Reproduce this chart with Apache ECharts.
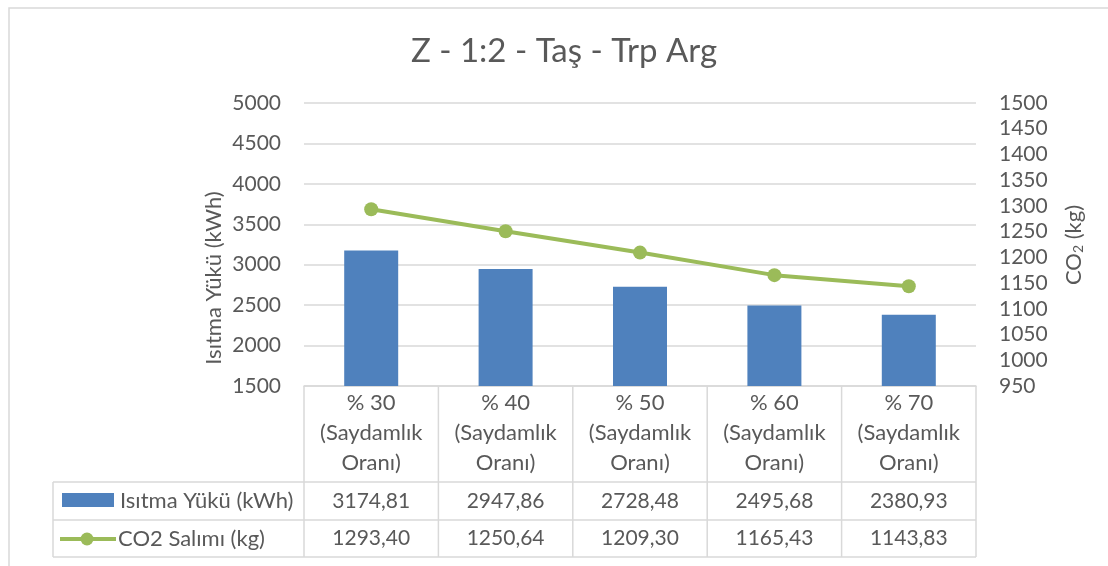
<!DOCTYPE html>
<html>
<head>
<meta charset="utf-8">
<script src="https://cdn.jsdelivr.net/npm/echarts@6/dist/echarts.min.js"></script>
<style>
  html, body { margin: 0; padding: 0; background: #fff; }
  #chart { width: 1108px; height: 566px; }
</style>
</head>
<body>
<div id="chart"></div>
<script>
// Heating load and CO2 emission by glazing ratio
const categories = ['% 30', '% 40', '% 50', '% 60', '% 70'];
const categorySuffix = ['(Saydamlık', 'Oranı)'];
const heatingLoad = [3174.81, 2947.86, 2728.48, 2495.68, 2380.93];
const co2Emission = [1293.40, 1250.64, 1209.30, 1165.43, 1143.83];
const seriesNames = ['Isıtma Yükü (kWh)', 'CO2 Salımı (kg)'];
const titleText = 'Z - 1:2 - Taş - Trp Arg';

const FONT = 'Lato, "Noto Sans", sans-serif';
const TEXT = '#595959';
const GRID_LINE = '#d9d9d9';
const BLUE = '#4F81BD';
const GREEN = '#9BBB59';

const W = 1108, H = 566;
const plot = { left: 304, right: 976, top: 103, bottom: 386 };
const table = { legendLeft: 53, headerBottom: 482, row1Bottom: 520, row2Bottom: 557 };

const fmt = v => v.toFixed(2).replace('.', ',');

const chart = echarts.init(document.getElementById('chart'), null, { renderer: 'canvas' });

function buildTable() {
  const g = [];
  const colW = (plot.right - plot.left) / categories.length;
  const line = (x1, y1, x2, y2) => ({
    type: 'line', silent: true,
    shape: { x1, y1, x2, y2 },
    style: { stroke: GRID_LINE, lineWidth: 1.5 }
  });
  // horizontal rules
  [table.headerBottom, table.row1Bottom, table.row2Bottom].forEach(y =>
    g.push(line(table.legendLeft, y, plot.right, y)));
  // vertical rules
  g.push(line(table.legendLeft, table.headerBottom, table.legendLeft, table.row2Bottom));
  for (let i = 0; i <= categories.length; i++) {
    const x = plot.left + i * colW;
    g.push(line(x, plot.bottom, x, table.row2Bottom));
  }
  const rowMid1 = (table.headerBottom + table.row1Bottom) / 2;
  const rowMid2 = (table.row1Bottom + table.row2Bottom) / 2;
  // value cells
  categories.forEach((c, i) => {
    const cx = plot.left + (i + 0.5) * colW;
    [[heatingLoad[i], rowMid1], [co2Emission[i], rowMid2]].forEach(([v, y]) => {
      g.push({
        type: 'text', silent: true, x: cx, y: y,
        style: { text: fmt(v), fill: TEXT, font: '21px ' + FONT, textAlign: 'center', textVerticalAlign: 'middle' }
      });
    });
  });
  // legend keys
  g.push({ type: 'rect', silent: true, shape: { x: 62, y: 493, width: 52, height: 14 }, style: { fill: BLUE } });
  g.push({ type: 'line', silent: true, shape: { x1: 60, y1: rowMid2 + 0.5, x2: 116, y2: rowMid2 + 0.5 }, style: { stroke: GREEN, lineWidth: 4 } });
  g.push({ type: 'circle', silent: true, shape: { cx: 87, cy: rowMid2 + 0.5, r: 6.5 }, style: { fill: GREEN } });
  g.push({
    type: 'text', silent: true, x: 120, y: rowMid1,
    style: { text: seriesNames[0], fill: TEXT, font: '22px ' + FONT, textVerticalAlign: 'middle' }
  });
  g.push({
    type: 'text', silent: true, x: 118, y: rowMid2,
    style: { text: seriesNames[1], fill: TEXT, font: '22px ' + FONT, textVerticalAlign: 'middle' }
  });
  // axis titles
  g.push({
    type: 'text', silent: true, x: 214, y: 278, rotation: Math.PI / 2,
    style: { text: 'Isıtma Yükü (kWh)', fill: TEXT, font: '22px ' + FONT, textAlign: 'center', textVerticalAlign: 'middle' }
  });
  g.push({
    type: 'text', silent: true, x: 1072, y: 245, rotation: Math.PI / 2,
    style: {
      text: '{a|CO}{s|2}{a| (kg)}',
      textAlign: 'center', textVerticalAlign: 'middle',
      rich: {
        a: { fill: TEXT, font: '22px ' + FONT, lineHeight: 26, verticalAlign: 'bottom' },
        s: { fill: TEXT, font: '14px ' + FONT, lineHeight: 26, verticalAlign: 'bottom', padding: [12, 0, 0, 0] }
      }
    }
  });
  // chart frame
  g.push({ type: 'rect', silent: true, z: -10, shape: { x: 9, y: 8, width: W + 20, height: H + 20 }, style: { fill: null, stroke: GRID_LINE, lineWidth: 1.5 } });
  return g;
}

chart.setOption({
  animation: false,
  backgroundColor: '#fff',
  textStyle: { fontFamily: FONT },
  title: {
    text: titleText, left: 559, top: 30, textAlign: 'center',
    textStyle: { fontFamily: FONT, fontSize: 33, fontWeight: 'normal', color: TEXT }
  },
  grid: { left: plot.left, right: W - plot.right, top: plot.top, bottom: H - plot.bottom, containLabel: false },
  xAxis: {
    type: 'category', data: categories, boundaryGap: true,
    axisLine: { show: true, lineStyle: { color: GRID_LINE, width: 1.5 } },
    axisTick: { show: false },
    axisLabel: {
      margin: 2, color: TEXT, fontSize: 22, lineHeight: 30, fontFamily: FONT,
      interval: 0, formatter: v => [v].concat(categorySuffix).join('\n')
    }
  },
  yAxis: [
    {
      type: 'value', min: 1500, max: 5000, interval: 500,
      axisLine: { show: false }, axisTick: { show: false },
      splitLine: { lineStyle: { color: GRID_LINE, width: 1.5 } },
      axisLabel: { color: TEXT, fontSize: 21, margin: 23, fontFamily: FONT, formatter: v => String(v) }
    },
    {
      type: 'value', min: 950, max: 1500, interval: 50, position: 'right',
      axisLine: { show: false }, axisTick: { show: false }, splitLine: { show: false },
      axisLabel: { color: TEXT, fontSize: 21, margin: 23, fontFamily: FONT, formatter: v => String(v) }
    }
  ],
  series: [
    {
      name: seriesNames[0], type: 'bar', data: heatingLoad, barWidth: 54,
      itemStyle: { color: BLUE }
    },
    {
      name: seriesNames[1], type: 'line', yAxisIndex: 1, data: co2Emission,
      symbol: 'circle', symbolSize: 14,
      lineStyle: { color: GREEN, width: 4 }, itemStyle: { color: GREEN }
    }
  ],
  graphic: buildTable()
});
</script>
</body>
</html>
